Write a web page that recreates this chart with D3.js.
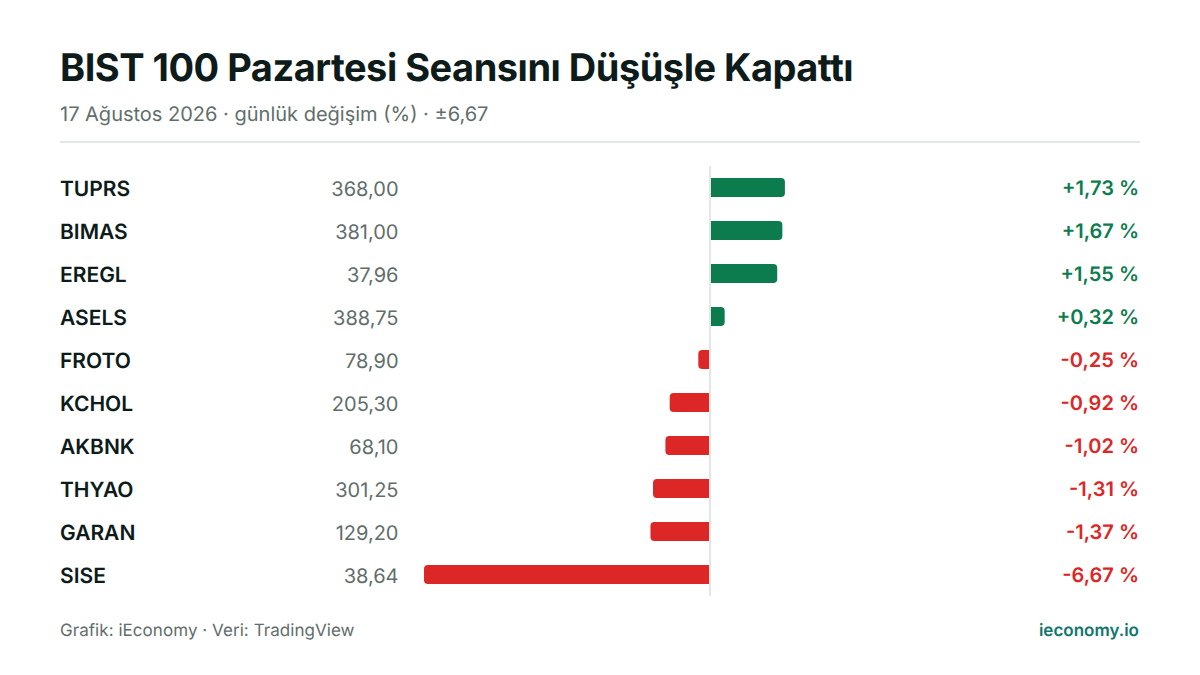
<!DOCTYPE html>
<html><head><meta charset="utf-8">
<script src="https://cdn.jsdelivr.net/npm/d3@7/dist/d3.min.js"></script>
<style>html,body{margin:0;padding:0;background:#fff}svg{display:block}text{font-family:Inter,sans-serif;text-rendering:geometricPrecision}</style>
</head><body><svg id="c" width="1200" height="675"></svg>
<script>
const titleText = "BIST 100 Pazartesi Seansını Düşüşle Kapattı";
const subtitleText = "17 Ağustos 2026 · günlük değişim (%) · ±6,67";
const sourceText = "Grafik: iEconomy · Veri: TradingView";
const brandText = "ieconomy.io";
const tickers = ["TUPRS","BIMAS","EREGL","ASELS","FROTO","KCHOL","AKBNK","THYAO","GARAN","SISE"];
const prices = ["368,00","381,00","37,96","388,75","78,90","205,30","68,10","301,25","129,20","38,64"];
const changes = [1.73,1.67,1.55,0.32,-0.25,-0.92,-1.02,-1.31,-1.37,-6.67];

const UP="#0c7c4f", DOWN="#dd2626", INK="#0d1b1a", MUTED="#5f6e6b", RULE="#e2e6e5";
const svg=d3.select("#c");
const x=d3.scaleLinear().domain([-6.67,6.67]).range([425,995]);
const y=d3.scaleBand().domain(tickers).range([166,596]).paddingInner(0).paddingOuter(0);
const fmt=v=>(v>0?"+":"-")+Math.abs(v).toFixed(2).replace(".",",")+" %";
const color=v=>v>=0?UP:DOWN;

svg.append("text").attr("x",60).attr("y",81).attr("font-size",38).attr("font-weight",700).attr("letter-spacing",-0.5).attr("fill",INK).text(titleText);
svg.append("text").attr("x",60).attr("y",120.6).attr("font-size",20).attr("fill",MUTED).text(subtitleText);
svg.append("rect").attr("x",60).attr("y",141).attr("width",1080).attr("height",2).attr("fill",RULE);

svg.append("rect").attr("x",x(0)-1).attr("y",166).attr("width",2).attr("height",430).attr("fill",RULE);

const barH=19, r=4;
const row=svg.selectAll("g.row").data(tickers.map((t,i)=>({t,p:prices[i],v:changes[i]}))).join("g").attr("class","row")
  .attr("transform",d=>`translate(0,${y(d.t)+y.bandwidth()/2})`);
row.append("text").attr("x",60).attr("y",8).attr("font-size",21).attr("font-weight",600).attr("fill",INK).text(d=>d.t);
row.append("text").attr("x",398.5).attr("y",8).attr("text-anchor","end").attr("font-size",20).attr("fill",MUTED).text(d=>d.p);
row.append("path").attr("fill",d=>color(d.v)).attr("d",d=>{
  const s=d.v>=0?1:-1, x0=x(0)+s, x1=x(d.v)+s, t=-barH/2+0, b=barH/2;
  const sw=s>0?1:0;
  return `M${x0},${t}L${x1-s*r},${t}A${r},${r} 0 0 ${sw} ${x1},${t+r}L${x1},${b-r}A${r},${r} 0 0 ${sw} ${x1-s*r},${b}L${x0},${b}Z`;
});
row.append("text").attr("x",1139).attr("y",7.5).attr("text-anchor","end").attr("font-size",20).attr("font-weight",600).attr("fill",d=>color(d.v)).text(d=>fmt(d.v));

svg.append("text").attr("x",60).attr("y",636).attr("font-size",17).attr("letter-spacing",0.05).attr("fill",MUTED).text(sourceText);
svg.append("text").attr("x",1139).attr("y",636).attr("text-anchor","end").attr("font-size",17).attr("font-weight",600).attr("fill","#0f766e").text(brandText);

svg.selectAll("text").attr("transform","rotate(0.002)");
</script></body></html>
